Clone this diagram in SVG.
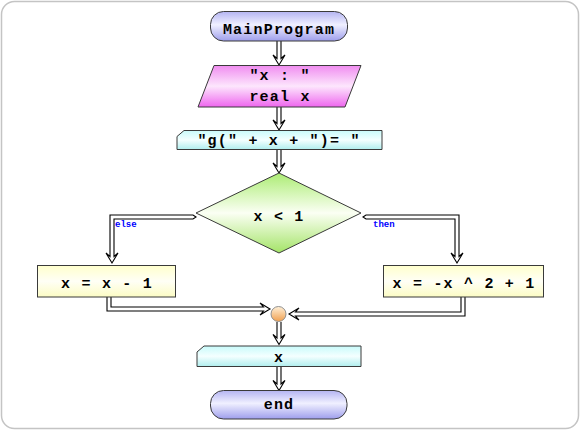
<svg xmlns="http://www.w3.org/2000/svg" width="582" height="433" viewBox="0 0 582 433">
<style>
.t{font-family:"Liberation Mono","DejaVu Sans Mono",monospace;font-weight:bold;font-size:15px;letter-spacing:1.2px;text-anchor:middle;fill:#000}
.lbl{font-family:"Liberation Mono","DejaVu Sans Mono",monospace;font-weight:bold;font-size:9px;fill:#0000ff}
.sh{stroke:#3a3a3a;stroke-width:1}
.ar{fill:#fff;stroke:#000;stroke-width:1.1;stroke-linejoin:miter}
</style>
<defs>
<linearGradient id="gTerm" x1="0" y1="0" x2="0" y2="1">
<stop offset="0" stop-color="#b4b4f2"/><stop offset="0.45" stop-color="#f0f0ff"/><stop offset="1" stop-color="#9e9eec"/>
</linearGradient>
<linearGradient id="gIn" x1="0" y1="0" x2="0" y2="1">
<stop offset="0" stop-color="#f08cf0"/><stop offset="0.5" stop-color="#fde6fd"/><stop offset="1" stop-color="#ee66ee"/>
</linearGradient>
<linearGradient id="gOut" x1="0" y1="0" x2="0" y2="1">
<stop offset="0" stop-color="#c8fafa"/><stop offset="0.5" stop-color="#f4ffff"/><stop offset="1" stop-color="#b0eeee"/>
</linearGradient>
<linearGradient id="gDec" x1="0" y1="0" x2="0" y2="1">
<stop offset="0" stop-color="#acec74"/><stop offset="0.5" stop-color="#fbfff4"/><stop offset="1" stop-color="#a4e468"/>
</linearGradient>
<linearGradient id="gProc" x1="0" y1="0" x2="0" y2="1">
<stop offset="0" stop-color="#ffffcc"/><stop offset="0.5" stop-color="#fffff6"/><stop offset="1" stop-color="#fcfcc4"/>
</linearGradient>
<linearGradient id="gJoin" x1="0" y1="0" x2="0" y2="1">
<stop offset="0" stop-color="#fff0d8"/><stop offset="1" stop-color="#f0a050"/>
</linearGradient>
</defs>
<rect x="1.5" y="1.5" width="577" height="427" rx="13" fill="#fff" stroke="#c4c4c4" stroke-width="1.5"/>

<g id="connectors">
<path class="ar" d="M277,41 V58.5 L273,55 L279,65 L285,55 L281,58.5 V41"/>
<path class="ar" d="M277,107 V123.5 L273,120 L279,130 L285,120 L281,123.5 V107"/>
<path class="ar" d="M277,150 V166.5 L273,163 L279,173 L285,163 L281,166.5 V150"/>
<path class="ar" d="M196,217 L193,215 H110 V256.5 L106,253 L112,263 L118,253 L114,256.5 V219 H193 Z"/>
<path class="ar" d="M363,217 L366,215 H459 V256.5 L463,253 L457,263 L451,253 L455,256.5 V219 H366 Z"/>
<path class="ar" d="M107,297 V311 H263.5 L260,315 L270,309 L260,303 L263.5,307 H111 V297"/>
<path class="ar" d="M465,297 V316 H295.5 L299,320 L289,314 L299,308 L295.5,312 H461 V297"/>
<path class="ar" d="M277,322 V338 L273,334.5 L279,344.5 L285,334.5 L281,338 V322"/>
<path class="ar" d="M277,367 V384 L273,380.5 L279,390.5 L285,380.5 L281,384 V367"/>
<text class="lbl" x="115" y="227">else</text>
<text class="lbl" x="373" y="227">then</text>
</g>

<g id="start">
<rect class="sh" x="210.5" y="11.5" width="137" height="29.5" rx="13" fill="url(#gTerm)"/>
<text class="t" x="279" y="33.5">MainProgram</text>
</g>

<g id="input">
<polygon class="sh" points="214,65.5 361,65.5 345,107 198,107" fill="url(#gIn)"/>
<text class="t" x="280" y="80" xml:space="preserve">"x : "</text>
<text class="t" x="280" y="101">real x</text>
</g>

<g id="output1">
<polygon class="sh" points="184,130.5 382,130.5 382,149.5 177,149.5 177,136.5" fill="url(#gOut)"/>
<text class="t" x="279" y="145" xml:space="preserve">"g(" + x + ")= "</text>
</g>

<g id="decision">
<polygon class="sh" points="279,173 361,213 279,253 196,213" fill="url(#gDec)"/>
<text class="t" x="279" y="221">x &lt; 1</text>
</g>

<g id="else-process">
<rect class="sh" x="37.5" y="265.5" width="138" height="31.5" fill="url(#gProc)"/>
<text class="t" x="107" y="288">x = x - 1</text>
</g>

<g id="then-process">
<rect class="sh" x="383.5" y="265.5" width="160" height="31.5" fill="url(#gProc)"/>
<text class="t" x="464" y="288">x = -x ^ 2 + 1</text>
</g>

<g id="join">
<circle cx="278.5" cy="314" r="7.5" fill="url(#gJoin)" stroke="#909090" stroke-width="1"/>
</g>

<g id="output2">
<polygon class="sh" points="204,346 361,346 361,366.5 197,366.5 197,352" fill="url(#gOut)"/>
<text class="t" x="279" y="362">x</text>
</g>

<g id="end">
<rect class="sh" x="210.5" y="390.5" width="136.5" height="28.5" rx="13" fill="url(#gTerm)"/>
<text class="t" x="279" y="409">end</text>
</g>
</svg>
